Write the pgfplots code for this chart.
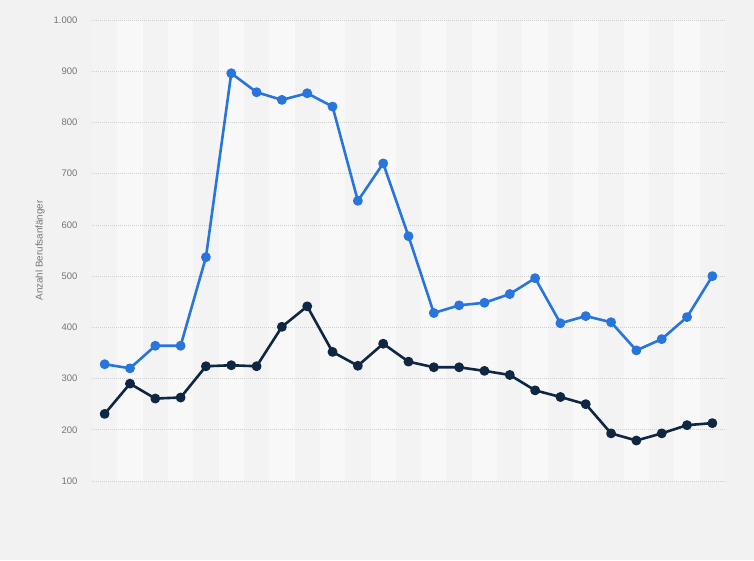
\documentclass[border=0pt]{standalone}
\usepackage{pgfplots}
\pgfplotsset{compat=1.18}
\usepackage{fontspec}
\setmainfont{Liberation Sans}
\definecolor{bg}{HTML}{F2F2F2}
\definecolor{bandlight}{HTML}{F8F8F8}
\definecolor{bandeven}{HTML}{F3F3F3}
\definecolor{sblue}{HTML}{2876DD}
\definecolor{sdark}{HTML}{0F2741}
\definecolor{tickgray}{HTML}{757575}
\definecolor{gridgray}{HTML}{CFCFCF}
\begin{document}
\begin{tikzpicture}[x=1pt,y=1pt]
\begin{axis}[
  set layers=standard,
  at={(92pt,79pt)}, anchor=south west,
  scale only axis, width=633pt, height=461pt,
  xmin=-0.5, xmax=24.5, ymin=100, ymax=1000,
  ytick={100,200,...,1000}, xtick=\empty,
  axis line style={draw=none},
  major tick length=0pt,
  ymajorgrids,
  grid style={dash pattern=on 1pt off 1pt, gridgray, line width=0.7pt},
  /pgf/number format/.cd, 1000 sep={.}, assume math mode=true,
  /pgfplots/.cd,
  yticklabel style={font=\fontsize{9.5}{10}\selectfont, text=tickgray, xshift=-11pt},
  every axis y label/.style={at={(rel axis cs:0,0.5)}, xshift=-52pt, rotate=90, anchor=center},
  ylabel={Anzahl Berufsanfänger},
  ylabel style={font=\fontsize{9.8}{11}\selectfont, text=tickgray},
  clip=false,
]
\begin{pgfonlayer}{axis background}
\fill[bg] ([xshift=-92pt,yshift=-79pt]rel axis cs:0,0) rectangle ([xshift=29pt,yshift=20pt]rel axis cs:1,1);
\pgfplotsinvokeforeach{0,2,...,24}{\fill[bandeven] (axis cs:#1-0.5,100) rectangle (axis cs:#1+0.5,1000);}
\pgfplotsinvokeforeach{1,3,...,23}{\fill[bandlight] (axis cs:#1-0.5,100) rectangle (axis cs:#1+0.5,1000);}
\end{pgfonlayer}
\addplot[sblue, line width=2.6pt, mark=*, mark size=3.6pt, line join=round] coordinates {
(0,328) (1,320) (2,364) (3,364) (4,537) (5,896) (6,859) (7,844) (8,857) (9,831)
(10,647) (11,720) (12,578) (13,428) (14,443) (15,448) (16,465) (17,496) (18,408)
(19,422) (20,410) (21,355) (22,377) (23,420) (24,500)};
\addplot[sdark, line width=2.6pt, mark=*, mark size=3.6pt, line join=round] coordinates {
(0,231) (1,290) (2,261) (3,263) (4,324) (5,326) (6,324) (7,401) (8,441) (9,352)
(10,325) (11,368) (12,333) (13,322) (14,322) (15,315) (16,307) (17,277) (18,264)
(19,250) (20,193) (21,179) (22,193) (23,209) (24,213)};
\end{axis}
\end{tikzpicture}
\end{document}
